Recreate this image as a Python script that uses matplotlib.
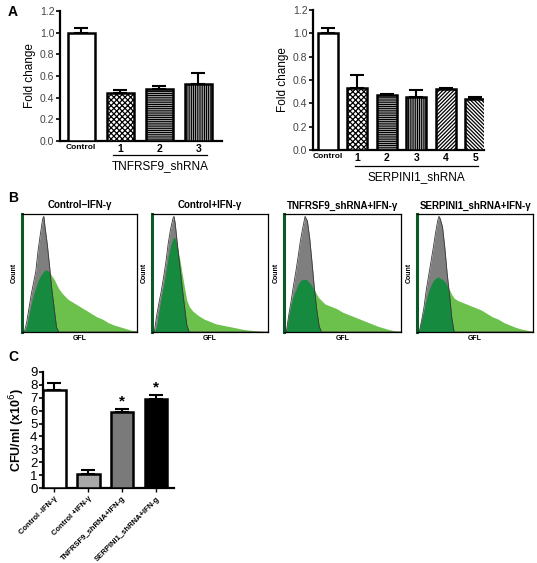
import numpy as np
import matplotlib
matplotlib.use('Agg')
import matplotlib.pyplot as plt
from matplotlib.transforms import blended_transform_factory

plt.rcParams['font.family'] = ['Liberation Sans', 'DejaVu Sans']
plt.rcParams['hatch.linewidth'] = 0.9

# ---------------- data ----------------
# Panel A (left)
a1_labels = ['Control', '1', '2', '3']
a1_values = [1.0, 0.44, 0.48, 0.53]
a1_errors = [0.04, 0.035, 0.03, 0.10]
a1_hatches = ['', 'xxxxxx', '---------', '|||||||||']
a1_group = 'TNFRSF9_shRNA'

# Panel A (right)
a2_labels = ['Control', '1', '2', '3', '4', '5']
a2_values = [1.0, 0.53, 0.475, 0.455, 0.525, 0.44]
a2_errors = [0.05, 0.11, 0.004, 0.06, 0.008, 0.015]
a2_hatches = ['', 'xxxxxx', '---------', '|||||||||', '/////////',
              '\\\\\\\\\\\\\\\\\\']
a2_group = 'SERPINI1_shRNA'

# Panel B (flow histograms, relative GFL channel vs relative count)
b_titles = ['Control\u2212IFN-\u03b3', 'Control+IFN-\u03b3',
            'TNFRSF9_shRNA+IFN-\u03b3', 'SERPINI1_shRNA+IFN-\u03b3']
gfl_grid = [0, 2, 4, 6, 8, 10, 12, 14, 16, 18, 19, 20, 22, 24, 26, 28, 30, 32,
            35, 40, 45, 50, 55, 60, 65, 70, 75, 80, 85, 90, 95, 100]
b_grey = [
    [0, 0, 8, 20, 32, 42, 52, 70, 84, 97, 99, 90, 75, 56, 36, 20, 4, 0,
     0, 0, 0, 0, 0, 0, 0, 0, 0, 0, 0, 0, 0, 0],
    [0, 0, 14, 25, 35, 47, 60, 76, 88, 97, 99, 93, 74, 56, 38, 22, 6, 0,
     0, 0, 0, 0, 0, 0, 0, 0, 0, 0, 0, 0, 0, 0],
    [0, 0, 14, 26, 39, 51, 64, 78, 89, 99, 97, 95, 80, 59, 37, 19, 5, 0,
     0, 0, 0, 0, 0, 0, 0, 0, 0, 0, 0, 0, 0, 0],
    [0, 0, 10, 21, 36, 48, 60, 72, 85, 96, 99, 97, 90, 72, 50, 32, 12, 0,
     0, 0, 0, 0, 0, 0, 0, 0, 0, 0, 0, 0, 0, 0],
]
b_green = [
    [0, 0, 5, 15, 24, 32, 38, 44, 48, 51, 52, 53, 53, 51, 48, 45, 41, 37,
     33, 28, 25, 22, 19, 16, 13, 11, 8, 6, 4.5, 3, 1.5, 1],
    [0, 0, 6, 18, 30, 40, 52, 64, 74, 80, 81, 80, 72, 62, 50, 38, 27, 22,
     18, 14, 11, 9, 7, 6, 5, 4, 3, 2, 1.5, 1, 0.5, 0],
    [0, 2, 13, 24, 31, 36, 41, 44, 45, 45, 45, 44, 42, 39, 36, 32, 29, 27,
     24, 22, 20, 17, 15, 13, 11, 9, 7, 5, 3.5, 2, 1, 0.5],
    [0, 3, 10, 19, 28, 35, 40, 44, 46, 47, 47, 46, 45, 43, 40, 36, 32, 29,
     27, 25, 23, 21, 19, 16, 13, 11, 8, 6, 4, 2.5, 1.5, 0.5],
]

# Panel C
c_labels = ['Control -IFN-\u03b3', 'Control +IFN-\u03b3',
            'TNFRSF9_shRNA+IFN-g', 'SERPINI1_shRNA+IFN-g']
c_values = [7.6, 1.1, 5.9, 6.9]
c_errors = [0.5, 0.3, 0.2, 0.3]
c_colors = ['white', '#a8a8a8', '#7a7a7a', 'black']
c_sig = [False, False, True, True]

# ---------------- figure ----------------
W, H = 537, 563
fig = plt.figure(figsize=(W / 100, H / 100), dpi=100)


def rect(x0, y0, x1, y1):
    return [x0 / W, (H - y1) / H, (x1 - x0) / W, (y1 - y0) / H]


def bar_panel(ax, labels, values, errors, hatches, xlim, group,
              line_x, line_y, text_y):
    x = np.arange(len(labels))
    for xi, v, h in zip(x, values, hatches):
        ax.bar(xi, v, width=0.69, color='white', edgecolor='black',
               linewidth=1.8, hatch=h, zorder=3)
    ax.errorbar(x, values, yerr=[np.zeros(len(x)), errors], fmt='none',
                ecolor='black', elinewidth=1.5, capsize=5, capthick=1.5,
                zorder=2)
    ax.set_xlim(*xlim)
    ax.set_ylim(0, 1.2)
    ax.set_yticks(np.arange(0, 1.21, 0.2))
    ax.set_yticklabels([f'{t:.1f}' for t in np.arange(0, 1.21, 0.2)],
                       fontsize=7.5, color='#444444')
    ax.set_xticks(x)
    ax.set_xticklabels(labels, fontweight='bold')
    for i, t in enumerate(ax.get_xticklabels()):
        t.set_fontsize(6 if i == 0 else 7.5)
    ax.tick_params(axis='y', length=3, width=1.2, pad=1)
    ax.tick_params(axis='x', length=0, pad=2)
    for s in ['top', 'right']:
        ax.spines[s].set_visible(False)
    for s in ['left', 'bottom']:
        ax.spines[s].set_linewidth(1.6)
    ax.set_ylabel('Fold change', fontsize=8.5, labelpad=3)
    tr = blended_transform_factory(ax.transData, ax.transAxes)
    ax.plot(line_x, [line_y, line_y], color='black', lw=0.9,
            transform=tr, clip_on=False)
    ax.text(np.mean(line_x), text_y, group, transform=tr, ha='center',
            va='center', fontsize=8.5)


ax1 = fig.add_axes(rect(60, 11, 222, 141))
bar_panel(ax1, a1_labels, a1_values, a1_errors, a1_hatches, (-0.54, 3.61),
          a1_group, [0.82, 3.23], -0.108, -0.19)

ax2 = fig.add_axes(rect(313, 10, 484, 150))
bar_panel(ax2, a2_labels, a2_values, a2_errors, a2_hatches, (-0.5, 5.3),
          a2_group, [0.92, 5.08], -0.114, -0.19)

fig.text(8 / W, 1 - 12 / H, 'A', fontsize=10, fontweight='bold',
         va='center', ha='left')
fig.text(8 / W, 1 - 198 / H, 'B', fontsize=10, fontweight='bold',
         va='center', ha='left')
fig.text(8 / W, 1 - 357 / H, 'C', fontsize=10, fontweight='bold',
         va='center', ha='left')

# Panel B
boxes = [(22, 137), (152, 268), (284, 401), (417, 533)]
light_green = '#6cc04c'
dark_green = '#168a3e'
grey = '#7f7f7f'
g = np.array(gfl_grid, dtype=float)
for (x0, x1), title, gr, gn in zip(boxes, b_titles, b_grey, b_green):
    ax = fig.add_axes(rect(x0, 214, x1, 332))
    gr = np.array(gr, dtype=float)
    gn = np.array(gn, dtype=float)
    ax.fill_between(g, gn, color=light_green, lw=0)
    ax.fill_between(g, gr, color=grey, lw=0)
    ax.fill_between(g, np.minimum(gr, gn), color=dark_green, lw=0)
    ax.plot(g, gr, color='#3a3a3a', lw=0.6)
    ax.set_xlim(0, 100)
    ax.set_ylim(0, 101)
    ax.set_xticks([])
    ax.set_yticks([])
    for s in ['top', 'right', 'bottom']:
        ax.spines[s].set_linewidth(0.9)
    ax.spines['left'].set_color('#0b5a26')
    ax.spines['left'].set_linewidth(2.2)
    ax.set_title(title, fontsize=7, fontweight='bold', pad=4)
    ax.set_ylabel('Count', fontsize=5, fontweight='bold', labelpad=3)
    ax.set_xlabel('GFL', fontsize=5, fontweight='bold', labelpad=2)

# Panel C
axc = fig.add_axes(rect(43, 371.7, 174, 488.3))
xc = np.arange(len(c_labels))
axc.bar(xc, c_values, width=0.67, color=c_colors, edgecolor='black',
        linewidth=1.8, zorder=3)
axc.errorbar(xc, c_values, yerr=[np.zeros(len(xc)), c_errors], fmt='none',
             ecolor='black', elinewidth=1.5, capsize=5, capthick=1.5, zorder=2)
for xi, v, e, s in zip(xc, c_values, c_errors, c_sig):
    if s:
        axc.text(xi, v + e + 0.05, '*', ha='center', va='bottom',
                 fontsize=11, fontweight='bold')
axc.set_xlim(-0.33, 3.53)
axc.set_ylim(0, 9)
axc.set_yticks(range(0, 10))
axc.set_yticklabels([str(i) for i in range(0, 10)], fontsize=9.5)
axc.set_xticks(xc)
axc.set_xticklabels(c_labels, rotation=45, ha='right', rotation_mode='anchor',
                    fontsize=5.5, fontweight='bold')
axc.tick_params(axis='y', length=3, width=1.2, pad=1)
axc.tick_params(axis='x', length=3, width=1.0, pad=2)
for s in ['top', 'right']:
    axc.spines[s].set_visible(False)
for s in ['left', 'bottom']:
    axc.spines[s].set_linewidth(1.6)
axc.set_ylabel('CFU/ml (x10$^6$)', fontsize=9, fontweight='bold', labelpad=2)

fig.savefig('out.png', dpi=100)
